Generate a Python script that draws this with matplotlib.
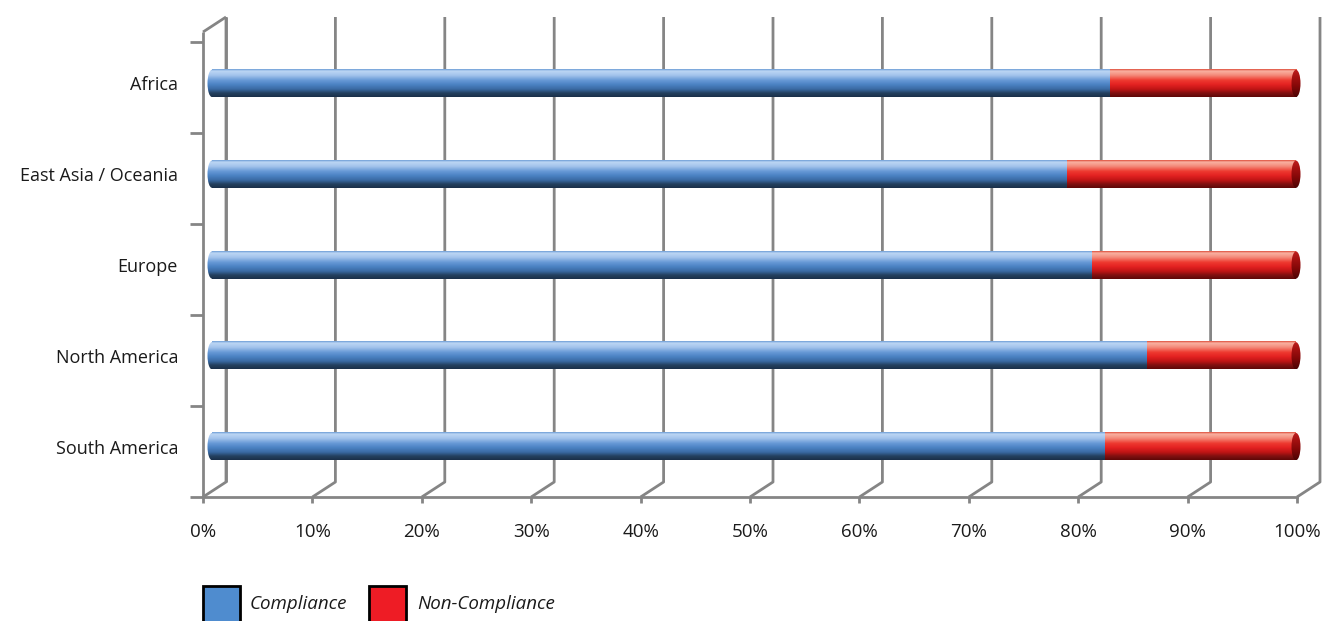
import numpy as np
import matplotlib
matplotlib.use("Agg")
import matplotlib.pyplot as plt
from matplotlib.colors import LinearSegmentedColormap
from matplotlib.patches import Ellipse, Rectangle
from matplotlib.transforms import Affine2D

# ---- data -------------------------------------------------------------
regions = ["South America", "North America", "Europe", "East Asia / Oceania", "Africa"]
compliance = [82.4, 86.3, 81.2, 78.9, 82.8]
non_compliance = [round(100 - v, 1) for v in compliance]
x_ticks = list(range(0, 101, 10))
x_tick_labels = [f"{t}%" for t in x_ticks]
series_names = ["Compliance", "Non-Compliance"]

# ---- figure -----------------------------------------------------------
W, H, DPI = 1326, 621, 100
fig = plt.figure(figsize=(W / DPI, H / DPI), dpi=DPI)
fig.patch.set_facecolor("white")
FONT = ["Open Sans", "DejaVu Sans"]
TXT = "#1a1a1a"
GREY = "#858585"
LW = 2.0


def px_box(left, top, right, bottom):
    return [left / W, 1 - bottom / H, (right - left) / W, (bottom - top) / H]


# pixel transform (origin top-left) for legend decorations
pix = Affine2D().scale(1 / W, -1 / H).translate(0, 1) + fig.transFigure

# ---- 3-D frame: floor edge, left wall and back-wall gridlines ----------
F_L, F_T, F_R, F_B = 203, 42, 1297, 497
frame = fig.add_axes(px_box(F_L, F_T, F_R, F_B), zorder=1)
n_cat = len(regions)
frame.set_xlim(0, 100)
frame.set_ylim(0, n_cat)
frame.patch.set_visible(False)
for s in ("top", "right", "left"):
    frame.spines[s].set_visible(False)
frame.spines["bottom"].set_color(GREY)
frame.spines["bottom"].set_linewidth(LW)
frame.set_xticks(x_ticks, x_tick_labels)
frame.set_yticks(np.arange(n_cat + 1), [""] * (n_cat + 1))
frame.tick_params(axis="x", direction="out", length=4.5, width=LW, color=GREY,
                  pad=14, labelsize=13.5, labelcolor=TXT)
frame.tick_params(axis="y", direction="out", length=9.5, width=LW, color=GREY)
for lab in frame.get_xticklabels():
    lab.set_family(FONT)

px_x = 100 / (F_R - F_L)          # data units per pixel (x)
px_y = n_cat / (F_B - F_T)        # data units per pixel (y)
dx, dy = 23 * px_x, 15 * px_y     # depth offset of the back wall
top = n_cat + 10 * px_y           # wall height

line_kw = dict(color=GREY, lw=LW, clip_on=False, solid_capstyle="butt", zorder=1)
# left wall: front edge, back edge, top diagonal
frame.plot([0, 0], [0, top], **line_kw)
frame.plot([dx, dx], [dy, top + dy], **line_kw)
frame.plot([0, dx], [top, top + dy], **line_kw)
# back-wall gridlines with floor diagonals
for v in x_ticks:
    frame.plot([v, v + dx, v + dx], [0, dy, top + dy], **line_kw)

# ---- bars ---------------------------------------------------------------
B0, B100 = 212, 1296              # pixel positions of 0 % and 100 % on the bars
MARGIN = 1.5                      # data-unit margin so the end caps are not clipped
LABEL_RIGHT = 178                 # right edge of the category labels (px)
upx = (B100 - B0) / 100
ax_left = B0 - MARGIN * upx
ax = fig.add_axes(px_box(ax_left, 38, B100 + MARGIN * upx, 492), zorder=2)
ax.patch.set_visible(False)
for s in ax.spines.values():
    s.set_visible(False)
y = np.arange(n_cat)
bh = 0.3

blue_cmap = LinearSegmentedColormap.from_list("cyl_blue", [
    (0.00, "#6a9ad4"), (0.07, "#bcd6f4"), (0.22, "#a4c4ec"), (0.40, "#6799d6"),
    (0.55, "#4c83c4"), (0.72, "#3a6aa3"), (0.86, "#23405f"), (1.00, "#1b3049")])
red_cmap = LinearSegmentedColormap.from_list("cyl_red", [
    (0.00, "#de4a38"), (0.07, "#f9b2a2"), (0.22, "#f48a7a"), (0.40, "#ee3a30"),
    (0.55, "#e42222"), (0.72, "#c01515"), (0.86, "#801010"), (1.00, "#5e0808")])
cap_cmap = LinearSegmentedColormap.from_list("cap_red", [
    (0.00, "#c02020"), (0.25, "#a81212"), (0.6, "#850808"), (1.00, "#4a0404")])

grad = np.linspace(0, 1, 256).reshape(-1, 1)


def gradient(cmap, x0, x1, y0, y1, z, clip=None):
    im = ax.imshow(cmap(grad), extent=(x0, x1, y0, y1), origin="upper",
                   aspect="auto", interpolation="bilinear", zorder=z)
    if clip is not None:
        im.set_clip_path(clip)
    return im


comp_bars = ax.barh(y, compliance, height=bh, color="#4c83c4", lw=0, zorder=2,
                    label=series_names[0])
non_bars = ax.barh(y, non_compliance, left=compliance, height=bh, lw=0,
                   color="#e42222", zorder=2, label=series_names[1])

cap_w = 9 / upx
for b in comp_bars:
    x0, y0, h = b.get_x(), b.get_y(), b.get_height()
    gradient(blue_cmap, x0, x0 + b.get_width(), y0, y0 + h, 3)
    cap = Ellipse((x0, y0 + h / 2), cap_w, h, facecolor="none", edgecolor="none")
    ax.add_patch(cap)
    gradient(blue_cmap, x0 - cap_w, x0 + 0.05, y0, y0 + h, 3, clip=cap)
for b in non_bars:
    x0, y0, h = b.get_x(), b.get_y(), b.get_height()
    xe = x0 + b.get_width()
    gradient(red_cmap, x0, xe, y0, y0 + h, 3)
    cap = Ellipse((xe, y0 + h / 2), cap_w, h, facecolor="none", edgecolor="none")
    ax.add_patch(cap)
    gradient(cap_cmap, xe - cap_w, xe + cap_w, y0, y0 + h, 4, clip=cap)

ax.set_xlim(-MARGIN, 100 + MARGIN)
ax.set_ylim(-0.5, n_cat - 0.5)
ax.set_xticks([])
ax.set_yticks(y, regions)
ax.tick_params(axis="y", length=0, pad=(ax_left - LABEL_RIGHT) * 72 / DPI,
               labelsize=13, labelcolor=TXT)
for lab in ax.get_yticklabels():
    lab.set_family(FONT)

# ---- legend -------------------------------------------------------------
legend_items = [(series_names[0], "#4f8ccf", 203, 250),
                (series_names[1], "#ee1c25", 369, 417)]
for name, col, bx, tx in legend_items:
    fig.add_artist(Rectangle((bx, 586), 37, 50, transform=pix, facecolor=col,
                             edgecolor="black", lw=2.0, clip_on=False))
    fig.text(tx, 604, name, transform=pix, ha="left", va="center",
             fontsize=13.5, style="italic", family=FONT, color=TXT)

fig.savefig("out.png", dpi=DPI, facecolor="white")
